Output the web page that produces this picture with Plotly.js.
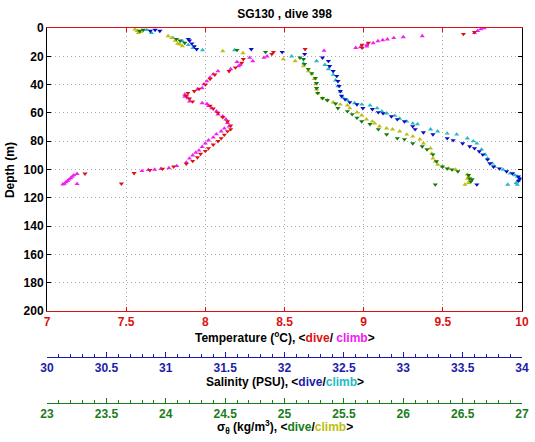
<!DOCTYPE html>
<html>
<head>
<meta charset="utf-8">
<script src="https://cdn.plot.ly/plotly-3.0.1.min.js"></script>
<style>html,body{margin:0;padding:0;background:#fff;}#chart{width:535px;height:442px;}</style>
</head>
<body>
<div id="chart"></div>
<script>
// ---- Data (depth in m) ----
const tempDiveDepth = [3, 4.3, 10.6, 12, 14, 15, 17, 18.4, 22, 24.6, 28, 30.5, 33, 36, 40, 43, 44.7, 46, 48, 50, 52, 55, 57, 60, 63, 66, 69, 71.6, 73, 75.5, 78, 80, 82.5, 85, 87, 89, 91.5, 94, 96, 98, 99.5, 100.5, 102.6, 103, 110];
const tempDive = [9.70, 9.63, 9.03, 8.99, 8.99, 8.63, 8.43, 8.42, 8.24, 8.23, 8.19, 8.15, 8.06, 8.03, 8.00, 7.96, 7.93, 7.89, 7.88, 7.90, 7.92, 8.03, 8.05, 8.08, 8.11, 8.14, 8.16, 8.16, 8.14, 8.12, 8.10, 8.08, 8.05, 8.02, 8.00, 7.97, 7.95, 7.92, 7.88, 7.80, 7.73, 7.65, 7.55, 7.24, 7.47];

const tempClimbDepth = [0, 0.8, 2, 3.5, 5.7, 6.4, 7, 8, 8.5, 9.2, 10.6, 12, 13, 13.5, 14, 16, 20, 21, 21, 23.4, 24, 26, 27, 29, 30.5, 32.6, 35, 37.6, 39.7, 42.4, 43.3, 47, 48.5, 49.6, 51.8, 53, 53.6, 55, 56.7, 58.9, 61, 62.4, 64.5, 67, 69.5, 71, 73, 75, 77.3, 79.4, 81.6, 84, 86.5, 88, 90, 92.2, 95, 97.5, 99, 99.5, 100, 100.3, 101, 103, 104, 105, 106, 107, 108, 109, 110, 110.5, 110.2];
const tempClimb = [9.76, 9.74, 9.72, 9.70, 9.37, 9.25, 9.19, 9.15, 9.12, 9.09, 9.06, 9.02, 9.02, 8.98, 8.95, 8.75, 8.39, 8.37, 8.28, 8.30, 8.20, 8.22, 8.21, 8.16, 8.08, 8.05, 8.03, 8.01, 7.99, 7.98, 7.95, 7.87, 7.87, 7.89, 7.90, 7.98, 8.01, 8.02, 8.04, 8.07, 8.08, 8.11, 8.13, 8.14, 8.15, 8.12, 8.10, 8.07, 8.05, 8.02, 8.00, 7.98, 7.96, 7.94, 7.92, 7.90, 7.88, 7.82, 7.77, 7.72, 7.68, 7.64, 7.60, 7.19, 7.17, 7.16, 7.15, 7.14, 7.13, 7.12, 7.11, 7.10, 7.19];

const salDiveDepth = [1.4, 2.1, 2.1, 7.8, 9, 11, 13, 15, 15, 17, 18.4, 21, 23.4, 27, 30.5, 34, 37.6, 41, 44.7, 48, 50.4, 52.5, 54, 56.7, 57.4, 59.6, 60.3, 62.5, 64.5, 66, 69.5, 71.6, 73.8, 75.2, 78, 79.4, 81.6, 83.7, 85, 87.2, 89.4, 93, 95.7, 98, 99.3, 101.4, 102.8, 105, 106.5, 108, 110.6];
const salDive = [30.91, 30.87, 30.95, 31.19, 31.20, 31.22, 31.24, 31.26, 31.72, 31.98, 32.17, 32.32, 32.37, 32.38, 32.41, 32.44, 32.45, 32.46, 32.47, 32.48, 32.51, 32.55, 32.61, 32.66, 32.74, 32.79, 32.83, 32.90, 32.95, 33.01, 33.08, 33.10, 33.17, 33.25, 33.37, 33.42, 33.50, 33.56, 33.60, 33.64, 33.67, 33.71, 33.73, 33.76, 33.81, 33.87, 33.92, 33.97, 33.98, 33.97, 33.62];

const salClimbDepth = [1.4, 3.5, 7, 9.2, 12, 14, 15.6, 15.6, 20, 25, 23.4, 26, 29, 33, 37, 41, 45, 49, 51, 53, 54, 54.6, 56.7, 58.9, 60.3, 62, 64, 66, 67.4, 68, 71.6, 73, 74.5, 75.2, 78, 80, 81.6, 85.8, 89.4, 92.2, 95.7, 98, 100, 102.8, 104, 105, 106.5, 108, 109.5, 110.6, 110.6];
const salClimb = [30.84, 30.88, 31.06, 31.14, 31.19, 31.23, 31.31, 31.58, 32.06, 32.16, 32.27, 32.34, 32.37, 32.41, 32.43, 32.45, 32.47, 32.49, 32.53, 32.59, 32.65, 32.72, 32.78, 32.82, 32.86, 32.93, 32.97, 33.03, 33.08, 33.12, 33.23, 33.29, 33.37, 33.45, 33.54, 33.59, 33.62, 33.66, 33.69, 33.71, 33.75, 33.77, 33.84, 33.90, 33.94, 33.96, 33.98, 33.97, 33.95, 33.96, 33.88];

const sigDiveDepth = [1.4, 2.1, 7.8, 9, 10.6, 15.6, 17, 21, 22, 25.5, 29, 32, 35.5, 39, 42.5, 46, 49.6, 51, 53.5, 56.7, 58.9, 61, 63.5, 66, 68, 71.6, 75.2, 78, 78.7, 81.6, 83.7, 85.8, 89.4, 94.3, 98, 99.3, 100, 101.4, 104, 106.4, 107, 108.5, 110.6];
const sigDive = [23.81, 23.78, 24.09, 24.12, 24.16, 24.60, 24.84, 25.13, 25.16, 25.17, 25.20, 25.23, 25.26, 25.27, 25.27, 25.28, 25.32, 25.36, 25.43, 25.45, 25.53, 25.57, 25.61, 25.65, 25.72, 25.79, 25.86, 25.95, 26.01, 26.08, 26.16, 26.20, 26.25, 26.28, 26.33, 26.37, 26.41, 26.46, 26.55, 26.56, 26.58, 26.57, 26.27];

const sigClimbDepth = [1, 2, 3.5, 2.8, 5.7, 7, 9, 11, 12.8, 11.5, 16.3, 17.7, 22, 23.4, 27, 30.5, 32.6, 36, 39.7, 43.3, 46, 49.6, 51, 52.5, 54, 54.6, 56.7, 59.6, 61.7, 64.5, 66, 67.4, 69.5, 70.9, 71.6, 73, 75.2, 76.6, 78.7, 81.6, 85, 88.7, 92.2, 94.3, 96.5, 98, 99.3, 100, 103.5, 105, 106.5, 108, 109.5, 110.6];
const sigClimb = [23.74, 23.76, 23.77, 23.79, 24.02, 24.05, 24.08, 24.10, 24.14, 24.12, 24.48, 24.65, 24.99, 25.09, 25.16, 25.20, 25.23, 25.25, 25.26, 25.27, 25.28, 25.32, 25.36, 25.41, 25.47, 25.53, 25.55, 25.61, 25.65, 25.69, 25.74, 25.76, 25.80, 25.86, 25.91, 25.97, 26.03, 26.08, 26.14, 26.17, 26.23, 26.24, 26.25, 26.27, 26.29, 26.33, 26.38, 26.44, 26.54, 26.55, 26.54, 26.56, 26.55, 26.52];

// ---- Style ----
const RED = '#dd1111', MAG = '#f020f0', BLUE = '#1c1caa', BLUEM = '#0a0ac8', CYAN = '#22bcc4', GREEN = '#1a7d1a', GREENM = '#137a13', OLIVE = '#bebe10';
const FONT = 'Liberation Sans, Arial, Helvetica, sans-serif';
const GRID = '#a8a8a8', GDASH = '1px,3px';

function tr(x, y, axis, color, sym) {
  return {x: x, y: y, xaxis: axis, yaxis: 'y', type: 'scatter', mode: 'markers',
    marker: {symbol: sym, size: 4.5, color: color, line: {width: 0}}, hoverinfo: 'skip'};
}

const data = [
  tr(sigClimb, sigClimbDepth, 'x3', OLIVE, 'triangle-up'),
  tr(sigDive, sigDiveDepth, 'x3', GREENM, 'triangle-down'),
  tr(salClimb, salClimbDepth, 'x2', CYAN, 'triangle-up'),
  tr(salDive, salDiveDepth, 'x2', BLUEM, 'triangle-down'),
  tr(tempClimb, tempClimbDepth, 'x', MAG, 'triangle-up'),
  tr(tempDive, tempDiveDepth, 'x', RED, 'triangle-down')
];

function tf(c) { return {family: FONT, size: 12, color: c, weight: 'bold'}; }

const layout = {
  width: 535, height: 442,
  paper_bgcolor: '#fff', plot_bgcolor: '#fff',
  margin: {l: 47, r: 13, t: 28, b: 39, pad: 0},
  showlegend: false,
  hovermode: false,
  title: {text: 'SG130 , dive 398', font: tf('#000'), x: 0.5, xref: 'paper', xanchor: 'center', y: 0.968, yref: 'container', yanchor: 'middle'},
  xaxis: {range: [7, 10], domain: [0, 1], anchor: 'y', tick0: 7, dtick: 0.5,
    ticks: 'inside', ticklen: 4, tickcolor: RED, showline: true, linecolor: RED, linewidth: 1, mirror: 'ticks',
    showgrid: true, gridcolor: GRID, griddash: GDASH, gridwidth: 1, zeroline: false, tickfont: tf(RED)},
  yaxis: {range: [200, 0], domain: [0.2453, 1], anchor: 'x', tick0: 0, dtick: 20,
    ticks: 'inside', ticklen: 4, tickcolor: '#000', showline: true, linecolor: '#000', linewidth: 1, mirror: 'ticks',
    showgrid: true, gridcolor: GRID, griddash: GDASH, gridwidth: 1, zeroline: false, tickfont: tf('#000')},
  xaxis2: {overlaying: 'x', anchor: 'free', position: 0.1235, range: [30, 34], tick0: 30, dtick: 0.5,
    ticks: 'inside', ticklen: 5, tickcolor: BLUE, showline: true, linecolor: BLUE, linewidth: 1,
    showgrid: false, zeroline: false, tickfont: tf(BLUE),
    minor: {dtick: 0.1, ticks: 'inside', ticklen: 3, tickcolor: BLUE, showgrid: false}},
  xaxis3: {overlaying: 'x', anchor: 'free', position: 0, range: [23, 27], tick0: 23, dtick: 0.5,
    ticks: 'inside', ticklen: 5, tickcolor: GREEN, showline: true, linecolor: GREEN, linewidth: 1,
    showgrid: false, zeroline: false, tickfont: tf(GREEN),
    minor: {dtick: 0.1, ticks: 'inside', ticklen: 3, tickcolor: GREEN, showgrid: false}},
  annotations: [
    {text: 'Depth (m)', textangle: -90, xref: 'paper', yref: 'paper', x: -0.078, y: 0.621,
      xanchor: 'center', yanchor: 'middle', showarrow: false, font: tf('#000')},
    {text: 'Temperature (<sup>o</sup>C), &lt;<span style="color:' + RED + '">dive</span>/ <span style="color:' + MAG + '">climb</span>&gt;',
      xref: 'paper', yref: 'paper', x: 0.5, y: 0.176, xanchor: 'center', yanchor: 'middle', showarrow: false, font: tf('#000')},
    {text: 'Salinity (PSU), &lt;<span style="color:' + BLUE + '">dive</span>/<span style="color:' + CYAN + '">climb</span>&gt;',
      xref: 'paper', yref: 'paper', x: 0.5, y: 0.056, xanchor: 'center', yanchor: 'middle', showarrow: false, font: tf('#000')},
    {text: 'σ<sub>θ</sub> (kg/m<sup>3</sup>), &lt;<span style="color:' + GREEN + '">dive</span>/<span style="color:' + OLIVE + '">climb</span>&gt;',
      xref: 'paper', yref: 'paper', x: 0.5, y: -0.064, xanchor: 'center', yanchor: 'middle', showarrow: false, font: tf('#000')}
  ]
};

Plotly.newPlot('chart', data, layout, {staticPlot: true, displayModeBar: false});
</script>
</body>
</html>
